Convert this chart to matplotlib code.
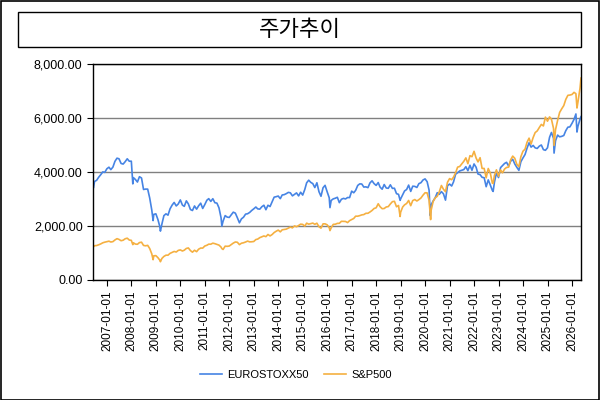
import matplotlib
matplotlib.use("Agg")
import matplotlib.pyplot as plt
import matplotlib.dates as mdates
from matplotlib.patches import Rectangle
from matplotlib.ticker import FuncFormatter
import pandas as pd

plt.rcParams['font.family'] = ['Liberation Sans', 'Noto Sans CJK KR']

title = "주가추이"
names = ["EUROSTOXX50", "S&P500"]
colors = ["#4684E4", "#F5B041"]

# month-end closes, 2006-06 .. 2026-04
eurostoxx = [
    3649, 3692, 3808, 3899, 4004, 3987, 4120,
    4178, 4088, 4181, 4393, 4512, 4490, 4316, 4294, 4382, 4489, 4399, 4400,
    3792, 3724, 3628, 3826, 3778, 3353, 3367, 3366, 3038, 2592, 2430, 2451,
    2237, 1976, 2071, 2384, 2451, 2401, 2638, 2775, 2873, 2743, 2816, 2966,
    2776, 2728, 2931, 2817, 2610, 2574, 2742, 2623, 2748, 2845, 2650, 2793,
    2954, 3013, 2911, 3011, 2861, 2849, 2671, 2303, 2180, 2385, 2330, 2317,
    2416, 2512, 2477, 2306, 2118, 2264, 2325, 2440, 2454, 2503, 2575, 2636,
    2703, 2634, 2624, 2712, 2769, 2603, 2768, 2721, 2893, 3068, 3086, 3109,
    3013, 3149, 3162, 3198, 3245, 3229, 3116, 3173, 3226, 3114, 3251, 3146,
    3351, 3599, 3697, 3616, 3570, 3424, 3601, 3270, 3101, 3418, 3506, 3268,
    3045, 2946, 3005, 3028, 3063, 2865, 2991, 3023, 3002, 3055, 3052, 3291,
    3231, 3320, 3501, 3560, 3555, 3442, 3450, 3421, 3595, 3674, 3570, 3504,
    3609, 3439, 3362, 3536, 3407, 3396, 3525, 3393, 3399, 3197, 3173, 3001,
    3159, 3298, 3352, 3515, 3281, 3474, 3467, 3427, 3569, 3604, 3703, 3745,
    3641, 3329, 2787, 2928, 3050, 3234, 3174, 3273, 3194, 2958, 3493, 3553,
    3481, 3636, 3919, 3974, 4039, 4064, 4089, 4196, 4048, 4250, 4063, 4298,
    4174, 3924, 3903, 3803, 3789, 3455, 3708, 3517, 3318, 3618, 3965, 3794,
    4163, 4238, 4315, 4359, 4218, 4399, 4471, 4297, 4175, 4061, 4382, 4521,
    4648, 4878, 5083, 4921, 4984, 4894, 4873, 4958, 5000, 4828, 4804, 4896,
    5287, 5464, 5248, 5160, 5367, 5303, 5320, 5352, 5530, 5660, 5670, 5800,
    5950, 6150, 5700, 5950,
]
sp500 = [
    1270, 1277, 1304, 1336, 1378, 1401, 1418,
    1438, 1407, 1421, 1482, 1531, 1503, 1455, 1474, 1527, 1549, 1481, 1468,
    1378, 1331, 1323, 1386, 1400, 1280, 1267, 1283, 1166, 969, 896, 903,
    826, 735, 798, 873, 919, 919, 987, 1021, 1057, 1036, 1096, 1115,
    1074, 1104, 1169, 1187, 1089, 1031, 1102, 1049, 1141, 1183, 1181, 1258,
    1286, 1327, 1326, 1364, 1345, 1321, 1292, 1219, 1131, 1253, 1247, 1258,
    1312, 1366, 1408, 1398, 1310, 1362, 1379, 1407, 1441, 1412, 1416, 1426,
    1498, 1515, 1569, 1598, 1631, 1606, 1686, 1633, 1682, 1757, 1806, 1848,
    1783, 1859, 1872, 1884, 1924, 1960, 1931, 2003, 1972, 2018, 2068, 2059,
    1995, 2105, 2068, 2086, 2107, 2063, 2104, 1972, 1920, 2079, 2080, 2044,
    1940, 1932, 2060, 2065, 2097, 2099, 2174, 2171, 2168, 2126, 2199, 2239,
    2279, 2364, 2363, 2384, 2412, 2423, 2470, 2472, 2519, 2575, 2648, 2674,
    2824, 2714, 2641, 2648, 2705, 2718, 2816, 2902, 2914, 2712, 2760, 2507,
    2704, 2784, 2834, 2946, 2752, 2942, 2980, 2926, 2977, 3038, 3141, 3231,
    3226, 2954, 2585, 2912, 3044, 3100, 3271, 3500, 3363, 3270, 3622, 3756,
    3714, 3811, 3973, 4181, 4204, 4298, 4395, 4523, 4308, 4605, 4567, 4766,
    4516, 4374, 4530, 4132, 4132, 3785, 4130, 3955, 3586, 3872, 4080, 3840,
    4077, 3970, 4109, 4169, 4180, 4450, 4589, 4508, 4288, 4194, 4568, 4770,
    4846, 5096, 5254, 5036, 5278, 5460, 5522, 5648, 5762, 5705, 6032, 5882,
    6041, 5955, 5612, 5569, 5912, 6205, 6339, 6460, 6688, 6840, 6850, 6870,
    6950, 6900, 6600, 7100,
]

# extra points: start/end of range and intra-month extremes
event_dates = ["2006-06-07", "2006-06-14", "2008-01-22", "2008-11-20", "2009-03-09",
               "2011-09-12", "2016-02-11", "2018-12-24", "2020-03-18", "2020-03-23",
               "2022-10-12", "2025-04-08", "2026-03-16", "2026-05-15"]
event_euro = [3440, 3410, 3560, 2200, 1810, 1995, 2680, 2950, 2386, 2485, 3280, 4700, 5480, 6050]
event_sp = [1260, 1230, 1310, 752, 677, 1162, 1829, 2351, 2398, 2237, 3577, 4983, 6370, 7480]

month_ends = pd.date_range("2006-06-30", "2026-04-30", freq="ME")
df = pd.DataFrame({"euro": eurostoxx, "sp": sp500}, index=month_ends)
ev = pd.DataFrame({"euro": event_euro, "sp": event_sp}, index=pd.to_datetime(event_dates))
df = pd.concat([df, ev]).sort_index()

fig = plt.figure(figsize=(6, 4), dpi=100)
# outer chart border and title box
fig.patches.append(Rectangle((0.001, 0.001), 0.997, 0.997, transform=fig.transFigure,
                             fill=False, edgecolor="black", linewidth=1.2))
fig.patches.append(Rectangle((18/600, 1-47/400), 563/600, 35/400, transform=fig.transFigure,
                             fill=False, edgecolor="black", linewidth=1))
fig.text(299.5/600, 1-29.5/400, title, ha="center", va="center", fontsize=16,
         family=["Noto Sans CJK KR"])

ax = fig.add_axes([93/600, 120/400, 488/600, 216/400])
ax.plot(df.index, df["euro"], color=colors[0], linewidth=1.2, label=names[0])
ax.plot(df.index, df["sp"], color=colors[1], linewidth=1.2, label=names[1])

ax.set_ylim(0, 8000)
ax.set_yticks([0, 2000, 4000, 6000, 8000])
ax.yaxis.set_major_formatter(FuncFormatter(lambda v, p: "{:,.2f}".format(v)))
ax.grid(axis="y", color="#808080", linewidth=1)
ax.set_axisbelow(True)

ax.set_xlim(pd.Timestamp("2006-06-07"), pd.Timestamp("2026-05-15"))
ax.set_xticks(pd.date_range("2007-01-01", "2026-01-01", freq="YS"))
ax.xaxis.set_major_formatter(mdates.DateFormatter("%Y-%m-%d"))
ax.tick_params(axis="x", labelrotation=90, labelsize=8.5, length=4, color="black")
ax.tick_params(axis="y", labelsize=9, length=4)
for s in ax.spines.values():
    s.set_linewidth(1)
    s.set_color("black")

# legend centred on the whole chart, not on the plot area
fig.legend(*ax.get_legend_handles_labels(), loc="center", bbox_to_anchor=(0.493, 1-375/400),
           ncol=2, frameon=False, fontsize=8, handlelength=2.0, handletextpad=0.5,
           columnspacing=1.3)

fig.savefig("out.png", dpi=100)
